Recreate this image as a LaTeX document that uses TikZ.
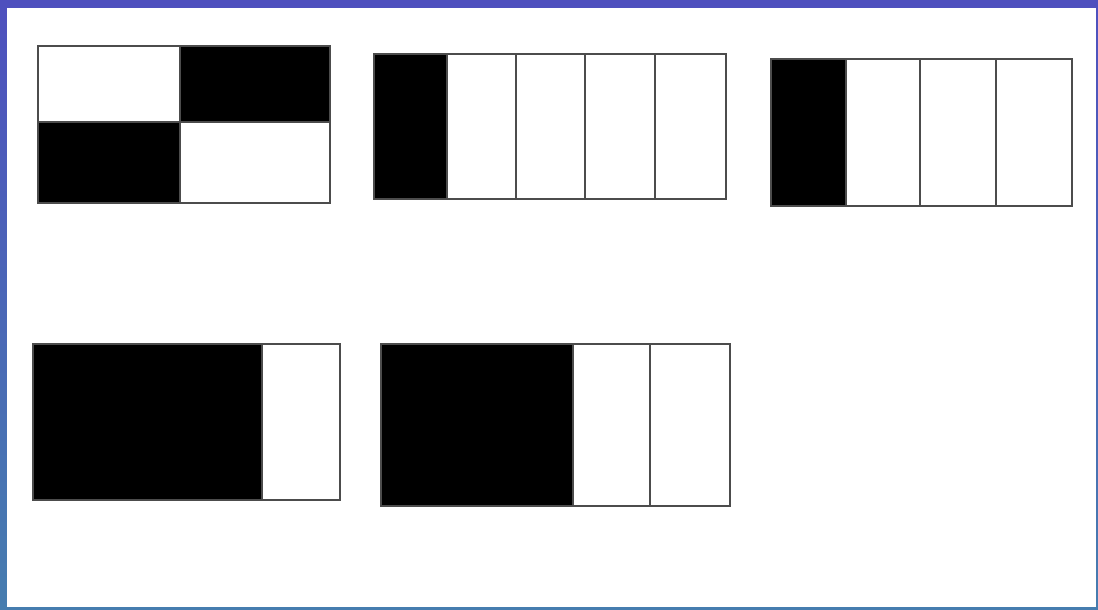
\documentclass[tikz,border=0pt]{standalone}
\begin{document}
\begin{tikzpicture}[x=0.025cm, y=-0.025cm,
    bar/.style={draw=black!70, line width=2pt, fill=white},
    shade/.style={fill=black}]
  \useasboundingbox (0, 0) rectangle (1098, 610);
  % slide frame
  \shade[top color={rgb,255:red,78;green,80;blue,190}, bottom color={rgb,255:red,70;green,125;blue,175}]
    (0, 0) rectangle (1098, 610);
  \fill[white] (7, 8) rectangle (1096, 607);
  % two by two
  \draw[bar] (38, 46) rectangle (330, 203);
  \fill[shade] (180, 46) rectangle (330, 122);
  \fill[shade] (38, 122) rectangle (180, 203);
  \draw[bar, fill=none] (38, 46) rectangle (330, 203);
  \draw[black!70, line width=2pt] (180, 46) -- (180, 203);
  \draw[black!70, line width=2pt] (38, 122) -- (330, 122);
  % five parts
  \draw[bar] (374, 54) rectangle (726, 199);
  \fill[shade] (374, 54) rectangle (447, 199);
  \foreach \x in {447, 516, 585, 655}
    \draw[black!70, line width=2pt] (\x, 54) -- (\x, 199);
  \draw[bar, fill=none] (374, 54) rectangle (726, 199);
  % four parts
  \draw[bar] (771, 59) rectangle (1072, 206);
  \fill[shade] (771, 59) rectangle (846, 206);
  \foreach \x in {846, 920, 996}
    \draw[black!70, line width=2pt] (\x, 59) -- (\x, 206);
  \draw[bar, fill=none] (771, 59) rectangle (1072, 206);
  % three of four
  \draw[bar] (33, 344) rectangle (340, 500);
  \fill[shade] (33, 344) rectangle (262, 500);
  \draw[black!70, line width=2pt] (262, 344) -- (262, 500);
  \draw[bar, fill=none] (33, 344) rectangle (340, 500);
  % big black plus two
  \draw[bar] (381, 344) rectangle (730, 506);
  \fill[shade] (381, 344) rectangle (573, 506);
  \foreach \x in {573, 650}
    \draw[black!70, line width=2pt] (\x, 344) -- (\x, 506);
  \draw[bar, fill=none] (381, 344) rectangle (730, 506);
\end{tikzpicture}
\end{document}
